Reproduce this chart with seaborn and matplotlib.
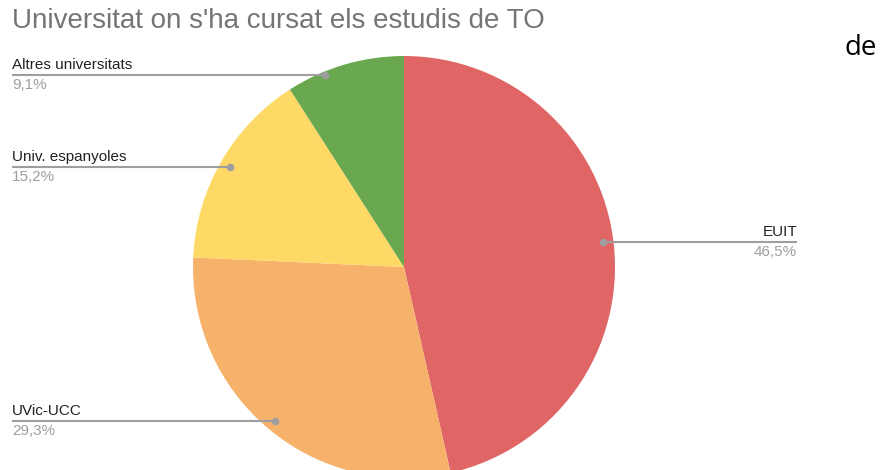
import numpy as np
import matplotlib.pyplot as plt
import seaborn as sns

# data
labels = ["EUIT", "UVic-UCC", "Univ. espanyoles", "Altres universitats"]
shares = [46.5, 29.3, 15.2, 9.1]
pct_text = ["46,5%", "29,3%", "15,2%", "9,1%"]
colors = ["#e06666", "#f6b26b", "#ffd966", "#6aa84f"]

sns.set_theme(style="white")
plt.rcParams['font.family'] = ['Liberation Sans', 'DejaVu Sans']

W, H = 889, 470
fig = plt.figure(figsize=(W / 100, H / 100), dpi=100)
ax = fig.add_axes([0, 0, 1, 1])

cx, cy, r = 404, H - 267, 211
ax.pie(shares, colors=colors, startangle=90, counterclock=False,
       center=(cx, cy), radius=r, wedgeprops=dict(linewidth=0))
ax.set_xlim(0, W)
ax.set_ylim(0, H)
ax.set_aspect('equal')
ax.axis('off')

# label anchors on each slice (mid angle, near the rim)
cum = np.cumsum([0] + shares[:-1])
mids = 90 - (cum + np.array(shares) / 2) / sum(shares) * 360
nudge = [0.8, 0, 0, 6]
rim = [0.95, 0.95, 0.95, 0.985]
line_c = "#9e9e9e"
for i, lab in enumerate(labels):
    a = np.deg2rad(mids[i] + nudge[i])
    dx, dy = cx + rim[i] * r * np.cos(a), cy + rim[i] * r * np.sin(a)
    if lab == "EUIT":
        x_end, ha = 797, "right"
    else:
        x_end, ha = 12, "left"
    ax.plot([x_end, dx], [dy, dy], color=line_c, lw=1.5, solid_capstyle='butt')
    ax.plot(dx, dy, 'o', color=line_c, ms=4.5)
    ax.text(x_end, dy + 3, lab, ha=ha, va='bottom', fontsize=11, color="#222222")
    ax.text(x_end, dy - 3, pct_text[i], ha=ha, va='top', fontsize=11, color="#9e9e9e")

fig.text(12 / W, 1 - 21 / H, "Universitat on s'ha cursat els estudis de TO",
         ha='left', va='center', fontsize=20, color="#757575")
fig.text(844 / W, 1 - 48 / H, "de", ha='left', va='center', fontsize=20,
         color="#000000", family=['Open Sans', 'DejaVu Sans'])

fig.savefig("out.png", dpi=100)
